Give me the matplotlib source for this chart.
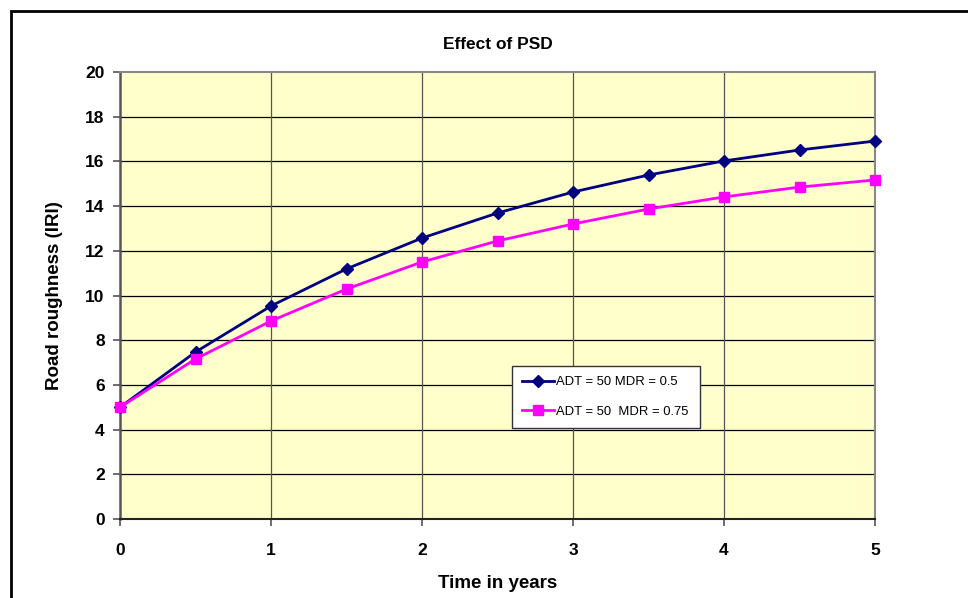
import matplotlib.pyplot as plt
from matplotlib.patches import Rectangle

# data
years = [0, 0.5, 1, 1.5, 2, 2.5, 3, 3.5, 4, 4.5, 5]
iri_mdr_050 = [5.0, 7.47, 9.53, 11.19, 12.57, 13.69, 14.63, 15.39, 16.02, 16.51, 16.91]
iri_mdr_075 = [5.0, 7.16, 8.86, 10.29, 11.50, 12.44, 13.20, 13.87, 14.41, 14.85, 15.17]
label_050 = "ADT = 50 MDR = 0.5"
label_075 = "ADT = 50  MDR = 0.75"

plt.rcParams['font.family'] = ['Liberation Sans', 'DejaVu Sans']

fig = plt.figure(figsize=(9.68, 5.98), dpi=100)
# outer chart frame (runs off the right and bottom edge like the reference)
fig.patches.append(Rectangle((11 / 968, -0.05), 1.2, 1.05 - 11 / 598,
                             transform=fig.transFigure, fill=False,
                             edgecolor='black', linewidth=2.0))

ax = fig.add_axes([120 / 968, 79 / 598, 755 / 968, 447 / 598])
ax.set_facecolor('#FFFFCC')

for y in range(2, 20, 2):
    ax.axhline(y, color='black', linewidth=0.9, zorder=1)
for x in range(1, 5):
    ax.axvline(x, color='#555555', linewidth=0.9, zorder=1)

ax.plot(years, iri_mdr_050, color='#000080', linewidth=2, marker='D',
        markersize=6, label=label_050, zorder=3, clip_on=False)
ax.plot(years, iri_mdr_075, color='#FF00FF', linewidth=2, marker='s',
        markersize=7.5, label=label_075, zorder=3, clip_on=False)

ax.set_xlim(0, 5)
ax.set_ylim(0, 20)
ax.set_xticks(range(0, 6))
ax.set_yticks(range(0, 21, 2))
ax.tick_params(direction='out', length=5, width=1.2, colors='#555555',
               labelcolor='black', labelsize=12.5)
ax.tick_params(axis='x', pad=12)
ax.tick_params(axis='y', pad=6)
for lab in ax.get_xticklabels() + ax.get_yticklabels():
    lab.set_fontweight('bold')

ax.spines['left'].set_color('#555555')
ax.spines['left'].set_linewidth(1.8)
ax.spines['bottom'].set_color('#222222')
ax.spines['bottom'].set_linewidth(1.5)
ax.spines['top'].set_color('#888888')
ax.spines['right'].set_color('#888888')
ax.spines['top'].set_linewidth(1.5)
ax.spines['right'].set_linewidth(1.5)

ax.set_title("Effect of PSD", fontsize=12.5, fontweight='bold', pad=16.5)
ax.set_xlabel("Time in years", fontsize=13.5, fontweight='bold', labelpad=12.5)
ax.set_ylabel("Road roughness (IRI)", fontsize=13.5, fontweight='bold', labelpad=16)

leg = ax.legend(loc='lower left', bbox_to_anchor=(0.519, 0.2036, 0.249, 0.13),
                mode='expand', fontsize=9.4, fancybox=False, framealpha=1,
                edgecolor='#333333', handlelength=2.4, borderaxespad=0,
                borderpad=0.8, labelspacing=1.3, handletextpad=0.2)
leg.get_frame().set_linewidth(1.0)

fig.savefig("out.png", dpi=100)
